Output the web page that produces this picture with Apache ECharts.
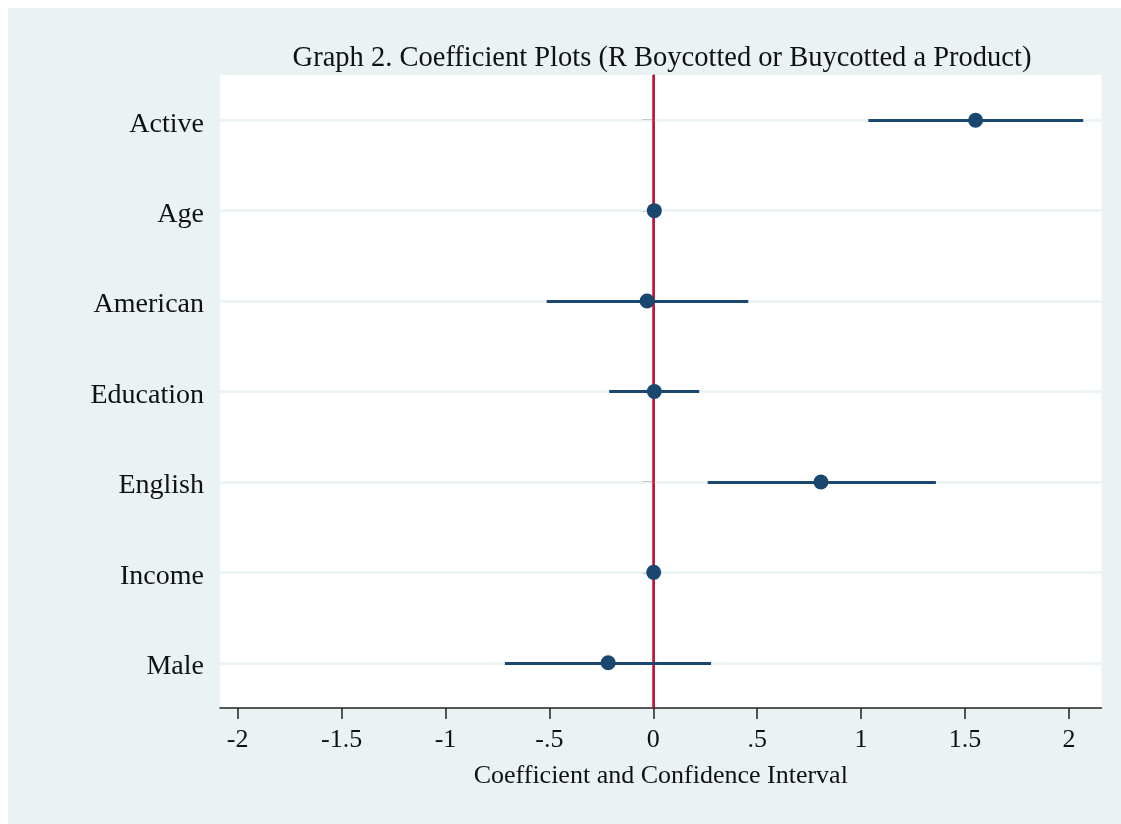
<!DOCTYPE html>
<html>
<head>
<meta charset="utf-8">
<script src="https://cdn.jsdelivr.net/npm/echarts@6/dist/echarts.min.js"></script>
<style>
html,body{margin:0;padding:0;background:#ffffff;}
#chart{width:1121px;height:824px;}
</style>
</head>
<body>
<div id="chart"></div>
<script>
const categories = ['Active', 'Age', 'American', 'Education', 'English', 'Income', 'Male'];
const coefs = [1.551, 0.005, -0.030, 0.005, 0.807, 0.002, -0.217];
const ciLow = [1.035, 0.000, -0.513, -0.212, 0.262, -0.002, -0.714];
const ciHigh = [2.069, 0.010, 0.457, 0.221, 1.360, 0.006, 0.278];
const xTicks = [-2, -1.5, -1, -0.5, 0, 0.5, 1, 1.5, 2];

const serif = '"Liberation Serif", "Times New Roman", serif';
const navy = '#1a476f';
const chart = echarts.init(document.getElementById('chart'));

const ptData = categories.map((c, i) => [coefs[i], c]);
const ciLines = categories.map((c, i) => [{coord: [ciLow[i], c]}, {coord: [ciHigh[i], c]}]);

chart.setOption({
  animation: false,
  backgroundColor: '#ffffff',
  graphic: [{
    type: 'rect', z: -10, silent: true,
    shape: {x: 8, y: 8, width: 1113, height: 816},
    style: {fill: '#eaf2f3'}
  }],
  title: {
    text: 'Graph 2. Coefficient Plots (R Boycotted or Buycotted a Product)',
    left: 657, top: 39, textAlign: 'center',
    textStyle: {fontFamily: serif, fontSize: 28.5, fontWeight: 'normal', color: '#111'}
  },
  grid: {left: 220, top: 75, width: 881.5, height: 633, show: true, backgroundColor: '#ffffff', borderWidth: 0},
  xAxis: {
    type: 'value', min: -2.085, max: 2.157,
    name: 'Coefficient and Confidence Interval', nameLocation: 'middle', nameGap: 55,
    nameTextStyle: {fontFamily: serif, fontSize: 26, color: '#111'},
    axisLine: {show: true, lineStyle: {color: '#222', width: 1.5}},
    axisTick: {show: true, length: 11, lineStyle: {color: '#222', width: 1.5}, customValues: xTicks},
    axisLabel: {
      customValues: xTicks, margin: 19,
      fontFamily: serif, fontSize: 26, color: '#111',
      formatter: v => {
        let s = String(Math.round(v * 10) / 10);
        s = s.replace(/^0\./, '.').replace(/^-0\./, '-.');
        return s;
      }
    },
    splitLine: {show: false}
  },
  yAxis: {
    type: 'category', data: categories, inverse: true,
    axisLine: {show: true, lineStyle: {color: '#222', width: 1.5}},
    axisTick: {show: true, alignWithLabel: true, length: 11, lineStyle: {color: '#222', width: 1.5}},
    axisLabel: {
      margin: 16, fontFamily: serif, fontSize: 28, color: '#111',
      formatter: v => '{a|' + v + '}',
      rich: {a: {fontFamily: serif, fontSize: 28, color: '#111', padding: [8, 0, 0, 0]}}
    },
    splitLine: {show: false}
  },
  series: [
    {
      type: 'scatter', data: [], z: 1, silent: true,
      markLine: {
        silent: true, symbol: 'none', label: {show: false},
        lineStyle: {color: '#eaf2f3', width: 2.5, type: 'solid'},
        data: categories.map(c => ({yAxis: c}))
      }
    },
    {
      type: 'scatter', data: [], z: 3, silent: true,
      markLine: {
        silent: true, symbol: 'none', label: {show: false},
        lineStyle: {color: '#c8103a', width: 2.5, type: 'solid'},
        data: [{xAxis: 0}]
      }
    },
    {
      type: 'scatter', data: [], z: 4, silent: true,
      markLine: {
        silent: true, symbol: 'none', label: {show: false},
        lineStyle: {color: navy, width: 3, type: 'solid', opacity: 1},
        emphasis: {disabled: true},
        data: ciLines
      }
    },
    {
      type: 'scatter', z: 5, silent: true,
      data: ptData, symbol: 'circle', symbolSize: 15,
      itemStyle: {color: navy, opacity: 1}
    }
  ]
});
</script>
</body>
</html>
